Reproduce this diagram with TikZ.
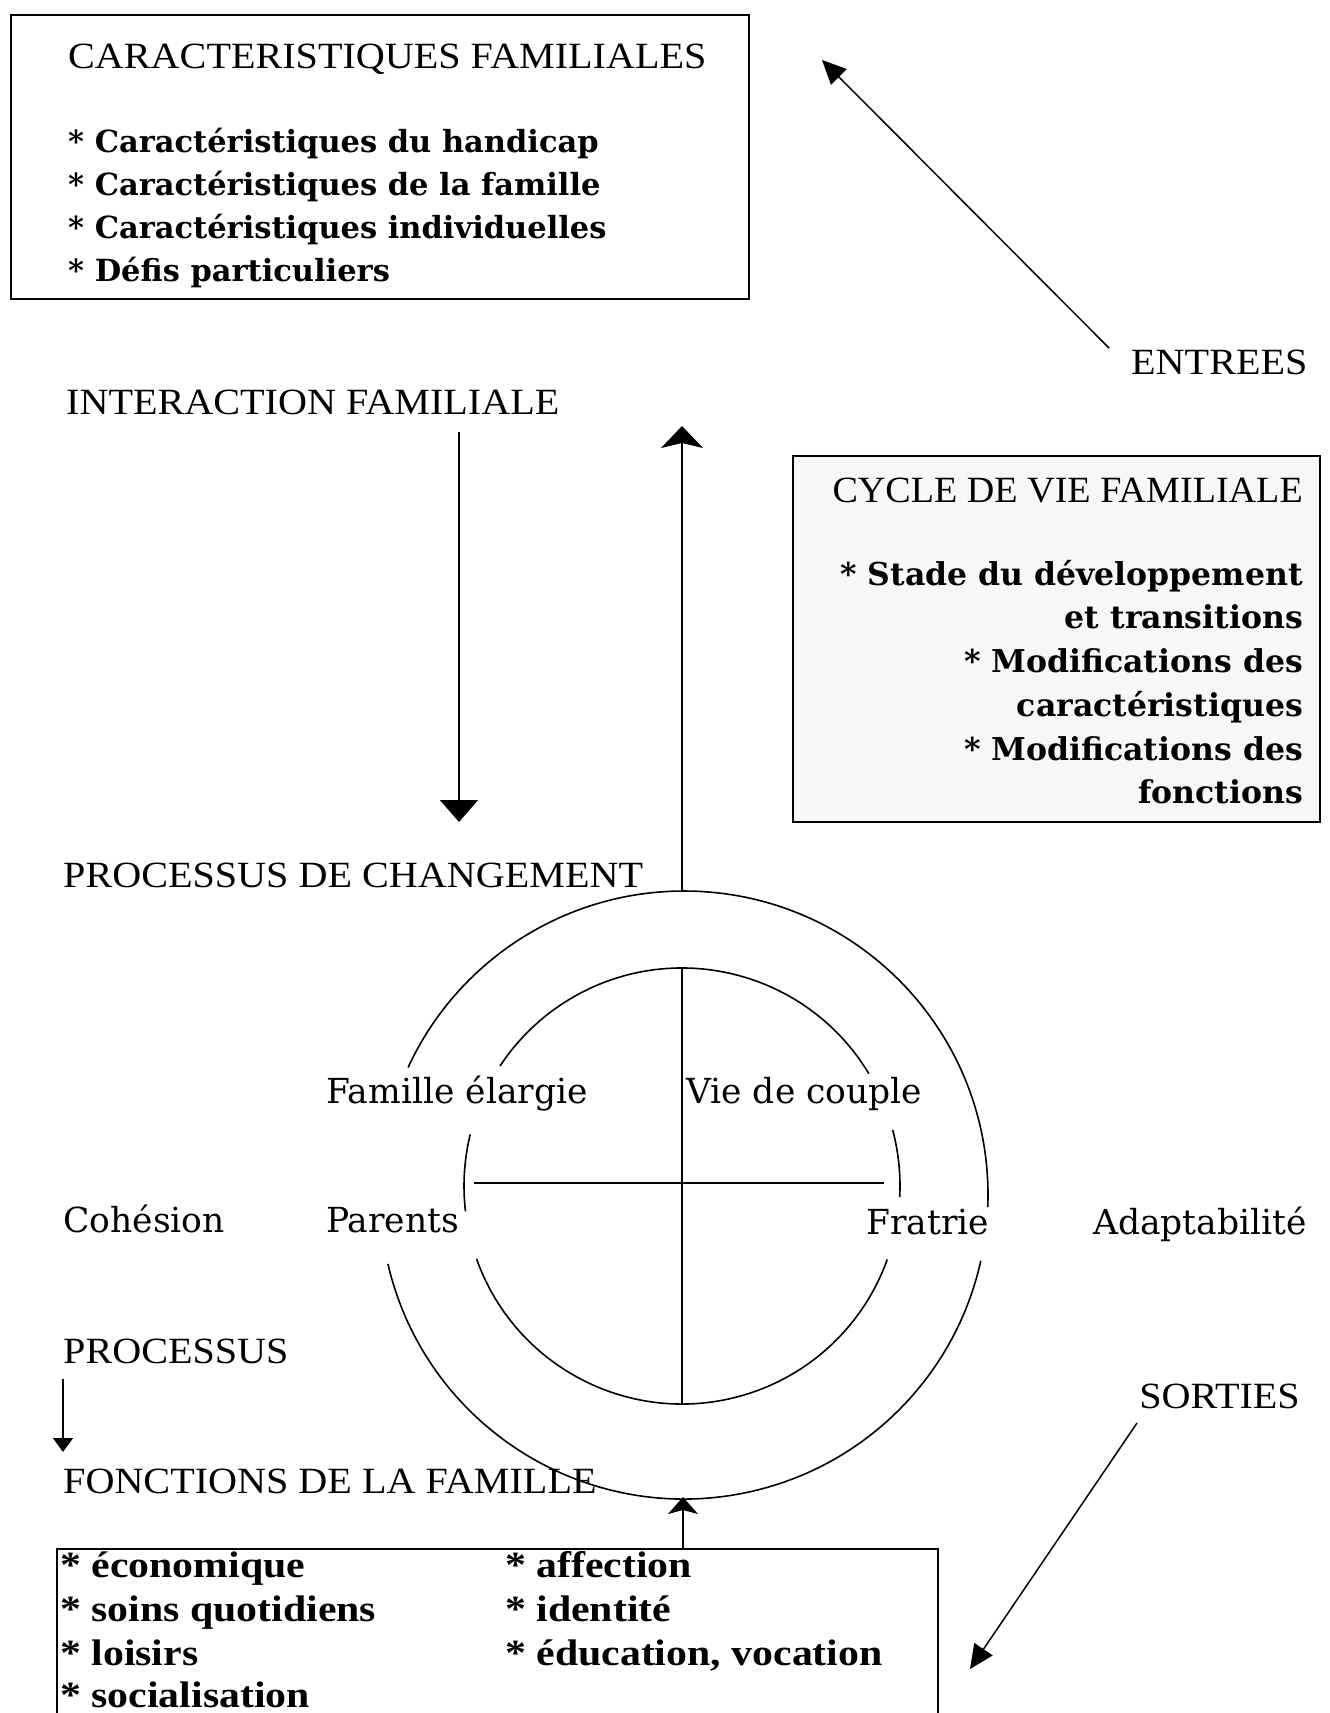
\documentclass[tikz,border=0pt]{standalone}
\usepackage{fontspec}
\usetikzlibrary{arrows.meta}
\newfontfamily\capsfont[FakeStretch=1.085]{Liberation Serif}
\newfontfamily\capsnarrow[FakeStretch=1.03]{Liberation Serif}
\newfontfamily\ringfont{DejaVu Serif}
\newfontfamily\funcfont[FakeStretch=1.13]{Liberation Serif}
\tikzset{
  caps/.style={font=\capsfont\fontsize{37}{40}\selectfont, inner sep=0pt},
  capsn/.style={font=\capsnarrow\fontsize{37}{40}\selectfont, inner sep=0pt},
  itembf/.style={font=\ringfont\bfseries\fontsize{30.5}{34}\selectfont, inner sep=0pt},
  cyclebf/.style={font=\ringfont\bfseries\fontsize{31.5}{35}\selectfont, inner sep=0pt},
  ring/.style={font=\ringfont\fontsize{34.5}{38}\selectfont, inner sep=0pt},
  func/.style={font=\funcfont\bfseries\fontsize{37}{40}\selectfont, inner sep=0pt},
  frame/.style={draw, line width=2.4pt, inner sep=0pt},
  conn/.style={line width=1.5pt},
  ringline/.style={line width=1.6pt},
  downhead/.style={-{Triangle[width=38pt,length=22pt]}},
  uphead/.style={-{Stealth[width=42pt,length=22pt,inset=5pt]}},
  smallup/.style={-{Stealth[width=30pt,length=17pt,inset=4pt]}},
  smalldown/.style={-{Triangle[width=20pt,length=14pt]}},
  diaghead/.style={-{Triangle[width=22pt,length=24pt]}},
}
\begin{document}
\begin{tikzpicture}[x=1pt,y=-1pt]
\useasboundingbox (0,0) rectangle (1330,1713);

% ---------- top box ----------
\node[frame, line width=2.8pt, minimum width=738pt, minimum height=284pt] (topbox) at (380,157) {};
\node[caps, anchor=base west] (tbtitle) at (68,68) {CARACTERISTIQUES FAMILIALES};
\node[itembf, anchor=base west] (tb1) at (68,152) {* Caractéristiques du handicap};
\node[itembf, anchor=base west] (tb2) at (68,195) {* Caractéristiques de la famille};
\node[itembf, anchor=base west] (tb3) at (68,238) {* Caractéristiques individuelles};
\node[itembf, anchor=base west] (tb4) at (68,281) {* Défis particuliers};

% ---------- entrees ----------
\node[caps, anchor=base west] (entrees) at (1131,374) {ENTREES};
\coordinate (entFrom) at (1109,348);
\coordinate (entTip) at (822,60);
\draw[conn, diaghead] (entFrom) -- (entTip);

% ---------- interaction ----------
\node[caps, anchor=base west] (interaction) at (66,414) {INTERACTION FAMILIALE};
\coordinate (intFrom) at (459,432);
\coordinate (intTip) at (459,822);
\draw[conn, downhead] (intFrom) -- (intTip);

% ---------- cycle box ----------
\node[frame, line width=2pt, fill=black!3, minimum width=527pt, minimum height=366pt] (cyclebox) at (1056.5,639) {};
\node[capsn, anchor=base east] (cytitle) at (1303,502) {CYCLE DE VIE FAMILIALE};
\node[cyclebf, anchor=base east] (cy1) at (1303,585) {* Stade du développement};
\node[cyclebf, anchor=base east] (cy2) at (1303,628) {et transitions};
\node[cyclebf, anchor=base east] (cy3) at (1303,672) {* Modifications des};
\node[cyclebf, anchor=base east] (cy4) at (1303,716) {caractéristiques};
\node[cyclebf, anchor=base east] (cy5) at (1303,760) {* Modifications des};
\node[cyclebf, anchor=base east] (cy6) at (1303,803) {fonctions};

% ---------- circle ----------
\node[caps, anchor=base west] (changement) at (63,887) {PROCESSUS DE CHANGEMENT};
\coordinate (O) at (684,1195);
\coordinate (I) at (682,1186);
\coordinate (outerTop) at (682,891);
\coordinate (upTip) at (682,426);
\draw[conn, uphead] (outerTop) -- (upTip);

% outer ring (gaps at the labels)
\draw[ringline] (O) ++(2.3:304) arc[start angle=2.3, end angle=-155.2, radius=304];
\draw[ringline] (O) ++(-193.1:304) arc[start angle=-193.1, end angle=-347.5, radius=304];
% inner ring
\draw[ringline] (I) ++(-31:218) arc[start angle=-31, end angle=-146.6, radius=218];
\draw[ringline] (I) ++(-166.3:218) arc[start angle=-166.3, end angle=-186.7, radius=218];
\draw[ringline] (I) ++(-199.5:218) arc[start angle=-199.5, end angle=-340.3, radius=218];
\draw[ringline] (I) ++(-357.1:218) arc[start angle=-357.1, end angle=-374.9, radius=218];
% cross
\coordinate (hL) at (474,1183);
\coordinate (hR) at (884,1183);
\coordinate (vT) at (682,968);
\coordinate (vB) at (682,1404);
\draw[line width=2.4pt] (hL) -- (hR);
\draw[ringline] (vT) -- (vB);

\node[ring, anchor=base west] (famille) at (326,1103) {Famille élargie};
\node[ring, anchor=base west] (couple) at (686,1103) {Vie de couple};
\node[ring, anchor=base west] (cohesion) at (63,1232) {Cohésion};
\node[ring, anchor=base west] (parents) at (326,1232) {Parents};
\node[ring, anchor=base west] (fratrie) at (866,1234) {Fratrie};
\node[ring, anchor=base west] (adapt) at (1093,1234) {Adaptabilité};

% ---------- processus / fonctions ----------
\node[caps, anchor=base west] (processus) at (63,1363) {PROCESSUS};
\coordinate (procFrom) at (63,1379);
\coordinate (procTip) at (63,1452);
\draw[conn, smalldown] (procFrom) -- (procTip);
\node[caps, anchor=base west] (fonctions) at (63,1493) {FONCTIONS DE LA FAMILLE};

\node[caps, anchor=base east] (sorties) at (1300,1408) {SORTIES};
\coordinate (sortFrom) at (1137,1423);
\coordinate (sortTip) at (970,1669);
\draw[conn, diaghead] (sortFrom) -- (sortTip);

% ---------- bottom box ----------
\coordinate (fbL) at (57,1725);
\coordinate (fbTL) at (57,1549);
\coordinate (fbTR) at (938,1549);
\coordinate (fbR) at (938,1725);
\draw[line width=2.2pt] (fbL) -- (fbTL) -- (fbTR) -- (fbR);
\coordinate (funcTop) at (683,1549);
\coordinate (outerBottom) at (683,1497);
\draw[conn, smallup] (funcTop) -- (outerBottom);

\node[func, anchor=base west] (f1) at (60,1577) {* économique};
\node[func, anchor=base west] (f2) at (60,1621) {* soins quotidiens};
\node[func, anchor=base west] (f3) at (60,1665) {* loisirs};
\node[func, anchor=base west] (f4) at (60,1707) {* socialisation};
\node[func, anchor=base west] (f5) at (505,1577) {* affection};
\node[func, anchor=base west] (f6) at (505,1621) {* identité};
\node[func, anchor=base west] (f7) at (505,1665) {* éducation, vocation};
\end{tikzpicture}
\end{document}
